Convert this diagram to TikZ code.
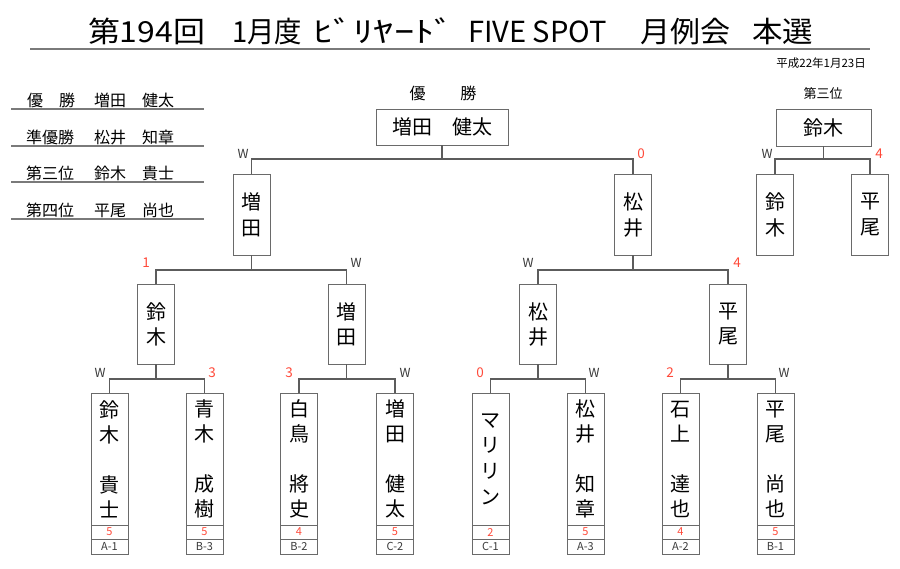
\documentclass[tikz,border=0pt]{standalone}
\usepackage{fontspec}
\setmainfont{Noto Sans CJK JP}
\definecolor{ln}{HTML}{5C5C5C}
\definecolor{bx}{HTML}{6A6A6A}
\definecolor{rd}{HTML}{FF4A3A}
\definecolor{wc}{HTML}{3A3A3A}
\definecolor{ul}{HTML}{7A7A7A}
\newcommand{\tseg}[2]{\resizebox{#1}{\height}{\fontsize{29}{29}\selectfont #2}}
\tikzset{
  conn/.style={draw=ln, line width=1.2pt},
  boxbase/.style={draw=bx, line width=0.9pt, inner sep=0pt, outer sep=0pt, align=center, fill=white},
  hbox/.style={boxbase, minimum width=132pt, minimum height=36pt, font=\fontsize{20}{24}\selectfont},
  tbox/.style={boxbase, minimum width=95pt, minimum height=37pt, font=\fontsize{20}{24}\selectfont},
  vbox2/.style={boxbase, minimum width=37pt, minimum height=81pt, font=\fontsize{20}{26}\selectfont},
  vbox3/.style={boxbase, minimum width=37pt, minimum height=80pt, font=\fontsize{20}{25}\selectfont},
  namebox/.style={boxbase, minimum width=37pt, minimum height=132pt, font=\fontsize{20}{25}\selectfont},
  scorebox/.style={boxbase, minimum width=37pt, minimum height=14pt, anchor=north, text=rd, font=\fontsize{11}{11}\selectfont},
  codebox/.style={boxbase, minimum width=37pt, minimum height=15pt, anchor=north, text=wc, font=\fontsize{11}{11}\selectfont},
  wlab/.style={inner sep=0pt, text=wc, font=\fontsize{12.5}{12.5}\selectfont},
  rlab/.style={inner sep=0pt, text=rd, font=\fontsize{13.5}{13.5}\selectfont},
  listtxt/.style={inner sep=0pt, anchor=west, text=black, font=\fontsize{16}{16}\selectfont},
  listline/.style={draw=ul, line width=1.3pt},
  tnode/.style={inner sep=0pt, outer sep=0pt, anchor=base west},
}
\begin{document}
\begin{tikzpicture}[x=1pt,y=-1pt]
\useasboundingbox[fill=white] (0,0) rectangle (900,568);

% title
\node[tnode] (tt1) at (88,42) {\tseg{117pt}{第194回}};
\node[tnode] (tt2) at (232,42) {\tseg{70pt}{1月度}};
\node[tnode] (tt3) at (313,42) {\tseg{142pt}{ﾋﾞﾘﾔｰﾄﾞ}};
\node[tnode] (tt4) at (468,42) {\tseg{139pt}{FIVE SPOT}};
\node[tnode] (tt5) at (640,42) {\tseg{90pt}{月例会}};
\node[tnode] (tt6) at (752,42) {\tseg{61pt}{本選}};
\draw[draw=ul, line width=2.6pt] (30,49) -- (870,49);
\node[inner sep=0pt, anchor=east, font=\fontsize{11.5}{12}\selectfont] (date) at (866,63) {平成22年1月23日};

% result list
\node[listtxt] (r1a) at (27,100) {優　勝};
\node[listtxt] (r1b) at (94,100) {増田　健太};
\node[listtxt] (r2a) at (26,137) {準優勝};
\node[listtxt] (r2b) at (94,137) {松井　知章};
\node[listtxt] (r3a) at (26,173) {第三位};
\node[listtxt] (r3b) at (94,173) {鈴木　貴士};
\node[listtxt] (r4a) at (26,210) {第四位};
\node[listtxt] (r4b) at (94,210) {平尾　尚也};
\draw[listline] (11,109) -- (204,109);
\draw[listline] (11,146) -- (204,146);
\draw[listline] (11,182) -- (204,182);
\draw[listline] (11,219) -- (204,219);

% champion
\node[inner sep=0pt, font=\fontsize{16}{16}\selectfont] (wintitle) at (443,93) {優\hspace{35pt}勝};
\node[hbox] (win) at (442,127) {増田　健太};

% level 1
\node[vbox2] (m1) at (251.5,214.5) {増\\田};
\node[vbox2] (p1) at (633,214.5) {松\\井};

% level 2
\node[vbox3] (q1) at (156,324) {鈴\\木};
\node[vbox3] (q2) at (346.5,324) {増\\田};
\node[vbox3] (q3) at (538,324) {松\\井};
\node[vbox3] (q4) at (728,324) {平\\尾};

% bottom players
\node[namebox] (b1) at (109.5,459) {鈴\\木\\[25pt]貴\\士};
\node[namebox] (b2) at (204.5,459) {青\\木\\[25pt]成\\樹};
\node[namebox] (b3) at (299,459) {白\\鳥\\[25pt]將\\史};
\node[namebox] (b4) at (395,459) {増\\田\\[25pt]健\\太};
\node[namebox, font=\fontsize{20}{25.7}\selectfont] (b5) at (490.5,459) {マ\\リ\\リ\\ン};
\node[namebox] (b6) at (585.5,459) {松\\井\\[25pt]知\\章};
\node[namebox] (b7) at (680.5,459) {石\\上\\[25pt]達\\也};
\node[namebox] (b8) at (775.5,459) {平\\尾\\[25pt]尚\\也};

\node[scorebox] (s1) at (b1.south) {5};
\node[scorebox] (s2) at (b2.south) {5};
\node[scorebox] (s3) at (b3.south) {4};
\node[scorebox] (s4) at (b4.south) {5};
\node[scorebox] (s5) at (b5.south) {2};
\node[scorebox] (s6) at (b6.south) {5};
\node[scorebox] (s7) at (b7.south) {4};
\node[scorebox] (s8) at (b8.south) {5};

\node[codebox] (c1) at (s1.south) {A-1};
\node[codebox] (c2) at (s2.south) {B-3};
\node[codebox] (c3) at (s3.south) {B-2};
\node[codebox] (c4) at (s4.south) {C-2};
\node[codebox] (c5) at (s5.south) {C-1};
\node[codebox] (c6) at (s6.south) {A-3};
\node[codebox] (c7) at (s7.south) {A-2};
\node[codebox] (c8) at (s8.south) {B-1};

% third place
\node[inner sep=0pt, font=\fontsize{13}{13}\selectfont] (tptitle) at (823,94) {第三位};
\node[tbox] (tp) at (823.5,127.5) {鈴木};
\node[vbox2] (t1) at (775,214.5) {鈴\\木};
\node[vbox2] (t2) at (870,214.5) {平\\尾};

% junctions
\coordinate (j0) at (442,159);
\coordinate (jt) at (823.5,159);
\coordinate (jm) at (251.5,270);
\coordinate (jp) at (633,270);
\coordinate (k1) at (156,379);
\coordinate (k2) at (346.5,379);
\coordinate (k3) at (538,379);
\coordinate (k4) at (728,379);

% connectors
\draw[conn] (win.south) -- (j0);
\draw[conn] (m1.north) |- (j0) -| (p1.north);
\draw[conn] (tp.south) -- (jt);
\draw[conn] (t1.north) |- (jt) -| (t2.north);
\draw[conn] (m1.south) -- (jm);
\draw[conn] (q1.north) |- (jm) -| (q2.north);
\draw[conn] (p1.south) -- (jp);
\draw[conn] (q3.north) |- (jp) -| (q4.north);
\draw[conn] (q1.south) -- (k1);
\draw[conn] (b1.north) |- (k1) -| (b2.north);
\draw[conn] (q2.south) -- (k2);
\draw[conn] (b3.north) |- (k2) -| (b4.north);
\draw[conn] (q3.south) -- (k3);
\draw[conn] (b5.north) |- (k3) -| (b6.north);
\draw[conn] (q4.south) -- (k4);
\draw[conn] (b7.north) |- (k4) -| (b8.north);

% labels
\node[wlab] (lw1) at (243,154) {W};
\node[rlab] (ls1) at (641,154) {0};
\node[wlab] (lw2) at (767,154) {W};
\node[rlab] (ls2) at (879,154) {4};
\node[rlab] (ls3) at (146,263) {1};
\node[wlab] (lw3) at (356,263) {W};
\node[wlab] (lw4) at (528,263) {W};
\node[rlab] (ls4) at (737,263) {4};
\node[wlab] (lw5) at (100,373) {W};
\node[rlab] (ls5) at (212,373) {3};
\node[rlab] (ls6) at (289,373) {3};
\node[wlab] (lw6) at (405,373) {W};
\node[rlab] (ls7) at (480,373) {0};
\node[wlab] (lw7) at (594,373) {W};
\node[rlab] (ls8) at (670,373) {2};
\node[wlab] (lw8) at (784,373) {W};
\end{tikzpicture}
\end{document}
